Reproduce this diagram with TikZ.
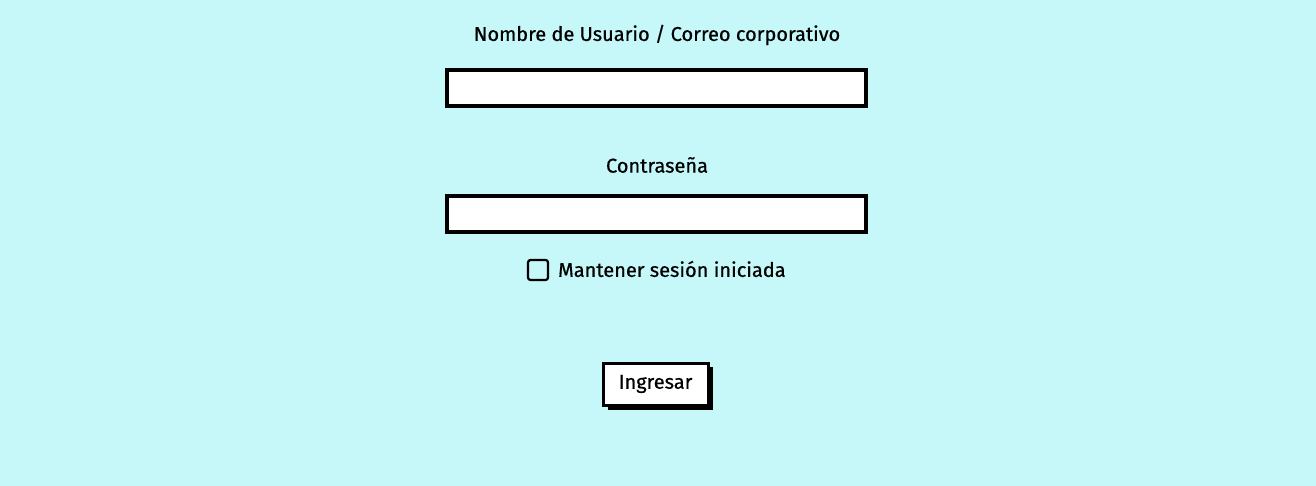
\documentclass[tikz,border=0pt]{standalone}
\usepackage{fontspec}
\setmainfont{Fira Sans}[FakeBold=0.6]
\definecolor{bgc}{RGB}{198,247,249}
\begin{document}
\begin{tikzpicture}[x=1pt,y=-1pt,
  lbl/.style={font=\fontsize{20}{22}\selectfont, inner sep=0pt, text=black},
  field/.style={draw=black, line width=3.5pt, fill=white},
  chk/.style={draw=black, line width=2.2pt, rounded corners=2.5pt, fill=none},
  btn/.style={draw=black, line width=3pt, fill=white},
  shadow/.style={fill=black}]
\fill[bgc] (0,0) rectangle (1316,486);
\useasboundingbox (0,0) rectangle (1316,486);
\node[lbl] (l1) at (657,35) {Nombre de Usuario / Correo corporativo};
\draw[field] (447,70) rectangle (866,106);
\node (f1) at (656.5,88) {};
\node[lbl] (l2) at (657,165) {Contraseña};
\draw[field] (447,196) rectangle (866,232);
\node (f2) at (656.5,214) {};
\draw[chk] (528,260) rectangle (548,280);
\node (cb) at (538,270) {};
\node[lbl, anchor=west] (cbl) at (558,269) {Mantener sesión iniciada};
\fill[shadow] (608,367) rectangle (713,410);
\draw[btn] (603,363) rectangle (708,405);
\node[lbl] (bt) at (655.5,384) {Ingresar};
\end{tikzpicture}
\end{document}
